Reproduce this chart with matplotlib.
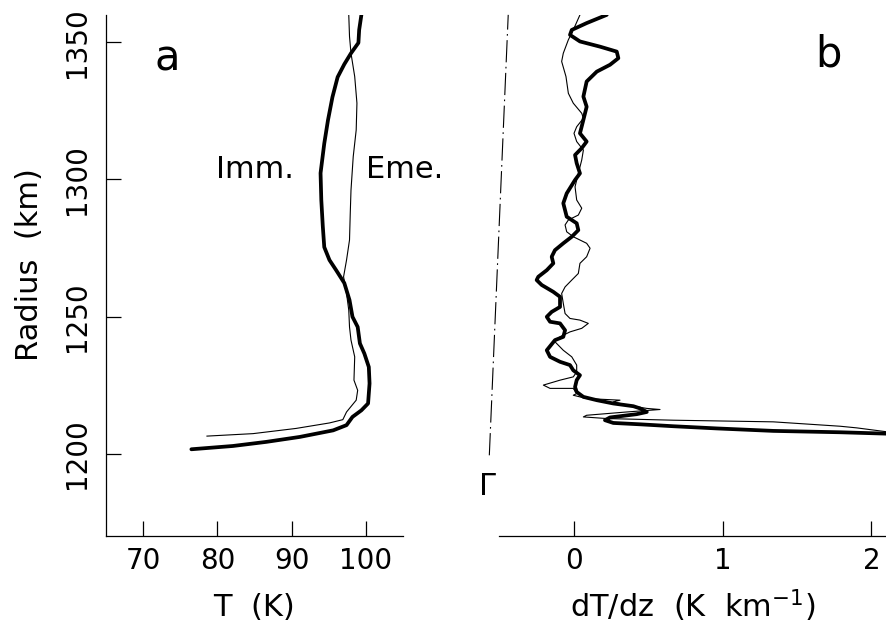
import numpy as np
import matplotlib
matplotlib.use("Agg")
import matplotlib.pyplot as plt

plt.rcParams['font.family'] = ['DejaVu Sans']
plt.rcParams['mathtext.default'] = 'regular'

# temperature profiles, ingress (Imm.) and egress (Eme.)
imm_R = [1360.0, 1354.5, 1349.8, 1346.0, 1342.0, 1337.3, 1330.0, 1321.6, 1313.1,
         1302.3, 1292.5, 1283.0, 1275.3, 1270.6, 1266.9, 1262.2, 1256.0, 1249.9,
         1246.2, 1240.2, 1236.5, 1231.6, 1225.6, 1218.3, 1215.8, 1213.4, 1210.4,
         1208.5, 1206.1, 1204.3, 1202.8, 1201.6]
imm_T = [99.4, 99.1, 99.0, 98.0, 97.1, 96.2, 95.5, 94.9, 94.4,
         93.9, 94.0, 94.2, 94.4, 95.1, 96.0, 97.1, 97.8, 98.2,
         98.9, 99.2, 99.8, 100.4, 100.5, 100.3, 99.4, 98.2, 97.4,
         95.6, 91.1, 86.6, 82.1, 76.5]

eme_R = [1360.0, 1352.1, 1346.0, 1337.5, 1327.8, 1318.0, 1308.3, 1296.1, 1287.6,
         1277.9, 1270.6, 1264.5, 1258.4, 1252.3, 1246.2, 1241.4, 1235.3, 1226.8,
         1223.1, 1219.5, 1215.2, 1212.4, 1211.2, 1209.2, 1207.3, 1206.4]
eme_T = [97.7, 97.8, 98.0, 98.5, 98.8, 98.7, 98.3, 98.0, 97.9,
         97.8, 97.4, 97.0, 97.4, 97.7, 97.8, 98.0, 98.5, 98.4,
         98.9, 98.7, 97.4, 96.9, 95.1, 90.6, 84.8, 78.6]

# temperature gradients dT/dz (K/km)
imm_gR = [1360.0, 1357.0, 1354.5, 1352.7, 1350.3, 1348.4, 1346.6, 1344.2, 1341.8,
          1339.3, 1335.7, 1330.2, 1326.5, 1321.7, 1316.8, 1313.8, 1311.4, 1308.9,
          1305.9, 1302.2, 1299.8, 1294.9, 1291.3, 1286.4, 1284.0, 1281.5, 1279.1,
          1276.7, 1274.2, 1271.8, 1269.4, 1266.9, 1264.5, 1263.3, 1261.5, 1259.0,
          1257.2, 1253.5, 1251.7, 1249.9, 1248.1, 1247.5, 1245.0, 1242.6, 1241.4,
          1237.7, 1235.3, 1233.5, 1232.3, 1230.4, 1228.6, 1226.8, 1224.3, 1222.5,
          1220.7, 1219.5, 1218.3, 1217.3, 1216.5, 1215.2, 1214.4, 1213.2, 1212.2,
          1211.2, 1210.7, 1210.0, 1209.2, 1208.3, 1207.8, 1207.3]
imm_grad = [0.222, 0.087, -0.013, -0.025, 0.042, 0.177, 0.289, 0.300, 0.244,
            0.155, 0.087, 0.065, 0.087, 0.065, 0.042, 0.087, 0.054, 0.009,
            0.020, 0.042, 0.009, -0.047, -0.070, -0.047, 0.020, 0.031, -0.013,
            -0.070, -0.126, -0.148, -0.137, -0.181, -0.238, -0.249, -0.215, -0.137,
            -0.092, -0.092, -0.148, -0.181, -0.159, -0.092, -0.058, -0.070, -0.126,
            -0.181, -0.159, -0.092, -0.025, -0.003, 0.042, 0.020, 0.009, 0.020,
            0.065, 0.155, 0.266, 0.401, 0.446, 0.491, 0.423, 0.244, 0.210,
            0.266, 0.446, 0.669, 0.961, 1.341, 1.790, 2.100]

eme_gR = [1360.0, 1354.5, 1350.9, 1346.0, 1343.0, 1337.5, 1331.4, 1327.8, 1324.1,
          1322.3, 1319.2, 1316.8, 1313.8, 1310.7, 1307.1, 1302.2, 1297.3, 1292.5,
          1289.5, 1287.0, 1285.2, 1283.4, 1280.9, 1279.1, 1277.9, 1276.7, 1274.9,
          1271.8, 1269.4, 1265.7, 1263.3, 1260.8, 1258.4, 1254.8, 1251.1, 1249.3,
          1248.7, 1247.5, 1245.7, 1244.4, 1242.6, 1240.8, 1237.7, 1235.3, 1232.3,
          1229.8, 1228.0, 1226.8, 1225.0, 1223.8, 1223.8, 1221.9, 1221.3, 1220.1,
          1219.5, 1218.9, 1217.7, 1216.5, 1216.1, 1215.2, 1214.0, 1213.4, 1212.8,
          1212.2, 1211.6, 1210.0, 1209.4, 1208.0]
eme_grad = [0.042, -0.003, -0.036, -0.070, -0.081, -0.052, -0.036, -0.003, 0.054,
            0.065, 0.020, 0.002, 0.020, 0.065, 0.054, 0.031, 0.009, 0.020,
            0.054, 0.031, -0.036, -0.058, -0.047, -0.003, 0.042, 0.087, 0.110,
            0.087, 0.042, 0.031, -0.013, -0.058, -0.081, -0.070, -0.058, -0.025,
            0.042, 0.098, 0.054, -0.025, -0.092, -0.126, -0.070, -0.013, 0.020,
            0.020, -0.003, -0.092, -0.204, -0.159, -0.003, 0.020, -0.003, 0.087,
            0.311, 0.266, 0.356, 0.491, 0.580, 0.356, 0.087, 0.065, 0.222,
            0.669, 1.341, 1.790, 1.902, 2.100]

# dry adiabatic lapse rate
gamma_x = [-0.567, -0.44]
gamma_R = [1199.4, 1360.0]

t_ticks = [70, 80, 90, 100]
r_ticks = [1200, 1250, 1300, 1350]
g_ticks = [0, 1, 2]

fs = 20      # tick labels
fl = 22      # axis labels and annotations
thick, thin = 2.7, 0.8

fig = plt.figure(figsize=(8.87, 6.32), dpi=100)
ax1 = fig.add_axes([0.1195, 0.152, 0.3348, 0.8245])
ax2 = fig.add_axes([0.5629, 0.152, 0.4371, 0.8245])

# --- panel a
ax1.plot(imm_T, imm_R, color='black', lw=thick, solid_joinstyle='round', solid_capstyle='round')
ax1.plot(eme_T, eme_R, color='black', lw=thin)
ax1.set_xlim(65, 105)
ax1.set_ylim(1170, 1360)
ax1.set_xticks(t_ticks)
ax1.set_yticks(r_ticks)
ax1.spines[['top', 'right']].set_visible(False)
ax1.tick_params(direction='in', length=10.5, width=0.9, labelsize=fs, pad=8)
ax1.tick_params(axis='y', labelrotation=90, pad=11)
for lbl in ax1.get_yticklabels():
    lbl.set_va('center')
ax1.set_xlabel('T  (K)', fontsize=fl, labelpad=13)
ax1.set_ylabel('Radius  (km)', fontsize=fl)
ax1.yaxis.set_label_coords(-0.21, 0.52)
ax1.text(73.2, 1344, 'a', fontsize=30, ha='center', va='center')
ax1.text(79.8, 1303.6, 'Imm.', fontsize=fl, ha='left', va='center')
ax1.text(100.0, 1303.6, 'Eme.', fontsize=fl, ha='left', va='center', clip_on=False)

# --- panel b
ax2.plot(gamma_x, gamma_R, color='black', lw=0.8, linestyle=(0, (20, 4, 1.5, 4)), clip_on=False)
ax2.plot(imm_grad, imm_gR, color='black', lw=thick, solid_joinstyle='round', solid_capstyle='round')
ax2.plot(eme_grad, eme_gR, color='black', lw=thin)
ax2.set_xlim(-0.5, 2.105)
ax2.set_ylim(1170, 1360)
ax2.set_xticks(g_ticks)
ax2.set_yticks([])
ax2.spines[['top', 'right', 'left']].set_visible(False)
ax2.tick_params(direction='in', length=10.5, width=0.9, labelsize=fs, pad=8)
ax2.set_xlabel('dT/dz  (K  km$^{-1}$)', fontsize=fl, labelpad=9)
ax2.text(1.71, 1345.5, 'b', fontsize=30, ha='center', va='center')
ax2.text(-0.576, 1188, '\u0393', fontsize=fl, ha='center', va='center', clip_on=False)

for ax in (ax1, ax2):
    ax.spines['bottom'].set_linewidth(0.9)
    ax.spines['left'].set_linewidth(0.9)
    ax.patch.set_visible(False)

fig.savefig('out.png', dpi=100)
